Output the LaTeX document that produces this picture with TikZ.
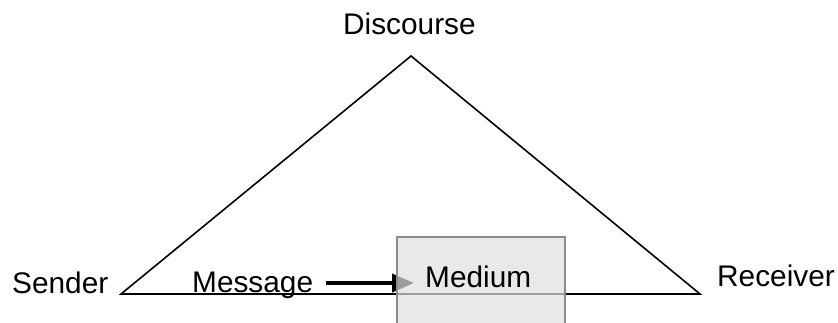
\documentclass[tikz,border=0pt]{standalone}
\usepackage{fontspec}
\setmainfont{Liberation Sans}
\usetikzlibrary{arrows.meta,positioning}
\tikzset{%
	label/.style     = {anchor=base west, inner sep=0pt, font=\fontsize{29.8}{34}\selectfont},
	edge/.style      = {line width=1.6pt, line join=miter},
	msgarrow/.style  = {line width=4pt, -{Triangle[length=22pt,width=18pt]}},
	mediumbox/.style = {draw=black!45, line width=1.2pt, fill=black!12, fill opacity=0.7, rectangle, minimum width=168pt, minimum height=90pt, inner sep=0pt},
}

\begin{document}
\begin{tikzpicture}[x=1pt,y=-1pt]
			\useasboundingbox (0,0) rectangle (838,322);
			% triangle corners
			\coordinate (apex) at (411,56);
			\coordinate (sendpt) at (121,294);
			\coordinate (recvpt) at (700,294);
			\draw[edge] (sendpt) -- (apex) -- (recvpt) -- cycle;
			
			\node[label] (discourse) at (343,34) {Discourse};
			\node[label] (sender) at (12,293) {Sender};
			\node[label] (receiver) at (717,286) {Receiver};
			\node[label] (message) at (192,292) {Message};
			
			\coordinate (msgtail) at (326,283);
			\coordinate (msgtip) at (414,283);
			\draw[msgarrow] (msgtail) -- (msgtip);
			
			% box lies over the lines
			\node[mediumbox] (box) at (481,282) {};
			\node[label] (medium) at (425,287) {Medium};
\end{tikzpicture}
\end{document}
